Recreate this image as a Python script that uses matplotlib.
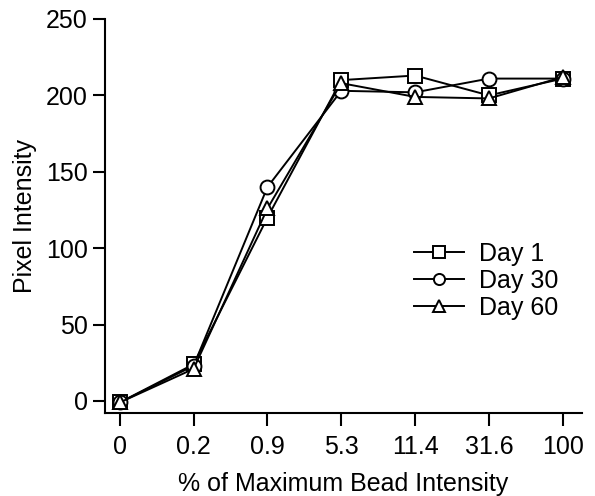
import matplotlib.pyplot as plt

plt.rcParams['font.family'] = ['Liberation Sans', 'DejaVu Sans']

categories = ['0', '0.2', '0.9', '5.3', '11.4', '31.6', '100']
day1 = [-1, 24, 120, 210, 213, 200, 211]
day30 = [-1, 23, 140, 203, 202, 211, 211]
day60 = [-1, 21, 126, 208, 199, 198, 212]

x = range(len(categories))

fig = plt.figure(figsize=(5.95, 4.96), dpi=100)
ax = fig.add_axes([105/595, 83/496, 477/595, 394/496])

style = dict(color='black', lw=1.4, markerfacecolor='white',
             markeredgecolor='black', markeredgewidth=1.4, markersize=10)
ax.plot(x, day1, marker='s', label='Day 1', **style)
ax.plot(x, day30, marker='o', label='Day 30', **style)
ax.plot(x, day60, marker='^', label='Day 60', **style)

ax.set_xlim(-0.2, 6.26)
ax.set_ylim(-7.9, 250)
ax.set_xticks(list(x))
ax.set_xticklabels(categories)
ax.set_yticks([0, 50, 100, 150, 200, 250])

for s in ['top', 'right']:
    ax.spines[s].set_visible(False)
for s in ['left', 'bottom']:
    ax.spines[s].set_linewidth(1.5)
ax.tick_params(width=1.5, length=9, labelsize=18, direction='out')
ax.tick_params(axis='x', pad=7)
ax.tick_params(axis='y', pad=3.5)

ax.set_xlabel('% of Maximum Bead Intensity', fontsize=18, labelpad=9)
ax.set_ylabel('Pixel Intensity', fontsize=18, labelpad=6)

ax.legend(loc='center left', bbox_to_anchor=(0.6, 0.336), frameon=False,
          fontsize=18, handlelength=2.0, handletextpad=0.6,
          labelspacing=0.12, markerscale=0.8)

fig.savefig('out.png', dpi=100)
